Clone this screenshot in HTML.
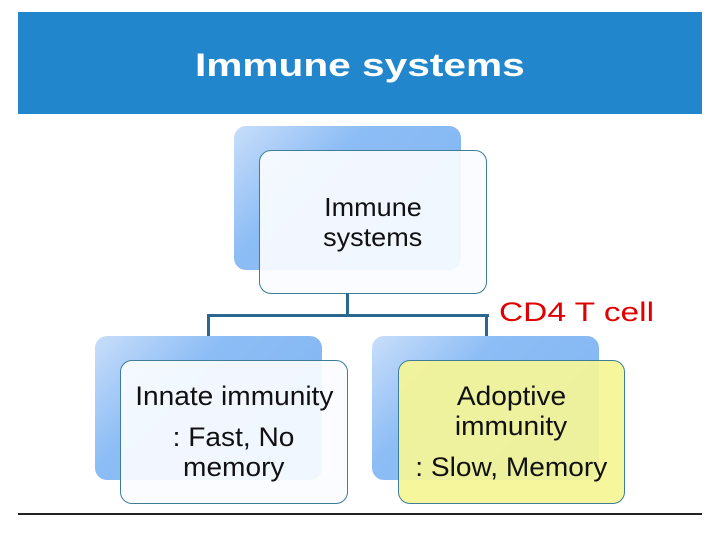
<!DOCTYPE html>
<html><head><style>
body{margin:0;width:720px;height:540px;background:#fff;position:relative;overflow:hidden;font-family:"Liberation Sans",sans-serif}
.a{position:absolute}
.back{border-radius:12px;background:linear-gradient(135deg,#c8defa 0%,#8dbdf5 35%,#7fb4f2 100%)}
.front{border:1px solid #3d7d95;border-radius:12px;background:rgba(250,252,255,0.93)}
.t{position:absolute;left:0;width:100%;text-align:center;font-size:27px;color:#111;line-height:30px}
.t span{display:inline-block;transform:scaleX(1.04)}
.ln{background:#2a6890}
</style></head><body>
<div class="a" style="left:18px;top:12px;width:684px;height:102px;background:#2186cc"></div>
<div class="a" style="left:0;top:47px;width:720px;text-align:center;color:#fff;font-weight:bold;font-size:32px"><span style="display:inline-block;transform:scaleX(1.27)">Immune systems</span></div>

<div class="a back" style="left:234px;top:126px;width:227px;height:144px"></div>
<div class="a front" style="left:259px;top:150px;width:226px;height:142px">
<div class="t" style="top:41px;font-size:26px"><span>Immune</span></div>
<div class="t" style="top:71px;font-size:26px"><span>systems</span></div>
</div>

<div class="a ln" style="left:346px;top:293px;width:3px;height:24px"></div>
<div class="a ln" style="left:207px;top:314px;width:282px;height:3px"></div>
<div class="a ln" style="left:207px;top:314px;width:3px;height:22px"></div>
<div class="a ln" style="left:485px;top:314px;width:3px;height:22px"></div>
<div class="a" style="left:499px;top:297px;color:#e00000;font-size:27px;transform-origin:0 0;transform:scaleX(1.24)">CD4 T cell</div>

<div class="a back" style="left:95px;top:336px;width:227px;height:144px"></div>
<div class="a front" style="left:120px;top:360px;width:226px;height:142px">
<div class="t" style="top:20px"><span>Innate immunity</span></div>
<div class="t" style="top:61px"><span>: Fast, No</span></div>
<div class="t" style="top:91px"><span>memory</span></div>
</div>

<div class="a back" style="left:372px;top:336px;width:227px;height:144px"></div>
<div class="a front" style="left:398px;top:360px;width:225px;height:142px;background:rgba(245,245,150,0.93)">
<div class="t" style="top:20px"><span>Adoptive</span></div>
<div class="t" style="top:50px"><span>immunity</span></div>
<div class="t" style="top:91px"><span>: Slow, Memory</span></div>
</div>

<div class="a" style="left:18px;top:513px;width:684px;height:2px;background:#222"></div>
</body></html>
